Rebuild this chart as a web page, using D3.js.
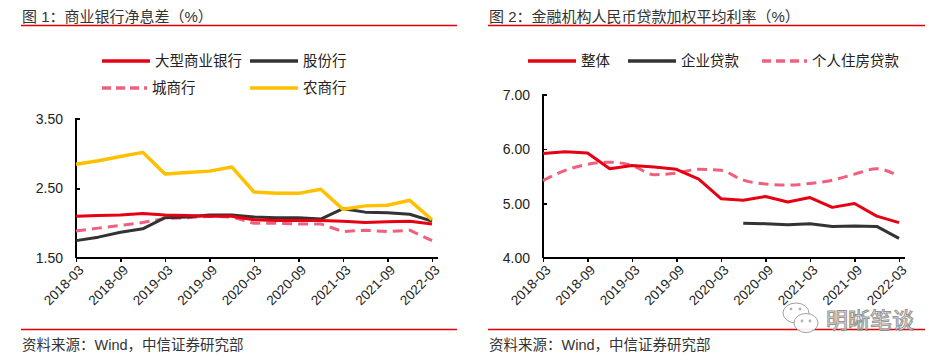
<!DOCTYPE html>
<html>
<head>
<meta charset="utf-8">
<script src="https://cdn.jsdelivr.net/npm/d3@7"></script>
<style>
  body { margin: 0; background: #fff; }
  text { font-family: "Liberation Sans", "Noto Sans CJK SC", sans-serif; }
</style>
</head>
<body>
<script>
// quarters shared by both charts
var quarters = ["2018-03","2018-06","2018-09","2018-12","2019-03","2019-06","2019-09","2019-12",
  "2020-03","2020-06","2020-09","2020-12","2021-03","2021-06","2021-09","2021-12","2022-03"];
var tickLabels = ["2018-03","2018-09","2019-03","2019-09","2020-03","2020-09","2021-03","2021-09","2022-03"];

// chart 1: net interest margin
var bigBanks  = [2.10,2.11,2.12,2.14,2.12,2.11,2.10,2.10,2.05,2.04,2.04,2.04,2.03,2.01,2.02,2.03,1.99];
var jointBanks = [1.75,1.80,1.87,1.92,2.08,2.09,2.12,2.12,2.09,2.08,2.08,2.06,2.21,2.16,2.15,2.13,2.03];
var cityBanks = [1.89,1.93,1.97,2.01,2.07,2.08,2.10,2.09,2.00,2.00,1.99,1.99,1.88,1.90,1.88,1.90,1.75];
var ruralBanks = [2.85,2.90,2.96,3.02,2.71,2.73,2.75,2.81,2.45,2.43,2.43,2.49,2.20,2.25,2.26,2.33,2.05];
var yTicks1 = [1.5, 2.5, 3.5];

// chart 2: weighted average loan rate
var overall = [5.92,5.95,5.93,5.64,5.70,5.67,5.63,5.45,5.09,5.06,5.13,5.03,5.11,4.93,5.00,4.77,4.65];
var corporate = [null,null,null,null,null,null,null,null,null,4.64,4.63,4.61,4.63,4.58,4.59,4.58,4.36];
var mortgage = [5.42,5.61,5.72,5.76,5.70,5.53,5.56,5.63,5.61,5.43,5.36,5.34,5.37,5.43,5.54,5.64,5.50];
var yTicks2 = [4, 5, 6, 7];

var RED = "#e60012", BLACK = "#333333", PINK = "#f0607e", YELLOW = "#ffc000";

var svg = d3.select("body").append("svg")
    .attr("width", 946)
    .attr("height", 362);

// draws one panel
function panel(opt) {
  var g = svg.append("g");

  // title and red rules
  g.append("text")
      .attr("x", opt.left + 1).attr("y", 22)
      .attr("font-size", 15).attr("fill", "#333")
      .text(opt.title);
  g.append("line")
      .attr("x1", opt.left).attr("x2", opt.right)
      .attr("y1", 25.5).attr("y2", 25.5)
      .attr("stroke", "#e00000").attr("stroke-width", 1.5);
  g.append("line")
      .attr("x1", opt.left).attr("x2", opt.right)
      .attr("y1", 329.5).attr("y2", 329.5)
      .attr("stroke", "#e00000").attr("stroke-width", 1.5);
  g.append("text")
      .attr("x", opt.left + 1).attr("y", 350)
      .attr("font-size", 14.5).attr("fill", "#333")
      .text("资料来源：Wind，中信证券研究部");

  var x = d3.scalePoint().domain(quarters).range(opt.xRange);
  var y = d3.scaleLinear().domain(opt.yDomain).range([258, opt.yTop]);

  // y axis
  var yAxis = g.append("g")
      .attr("transform", "translate(" + opt.xRange[0] + ",0)")
      .call(d3.axisRight(y).tickValues(opt.yTicks).tickSize(4).tickFormat(d3.format(".2f")));
  yAxis.select(".domain").attr("stroke", "#000").attr("stroke-width", 1.3)
      .attr("d", "M4," + (opt.yTop) + "H0V258");
  yAxis.selectAll(".tick line").attr("stroke", "#000").attr("stroke-width", 1.3);
  yAxis.selectAll(".tick text")
      .attr("x", -13).attr("text-anchor", "end")
      .attr("font-size", 14).attr("fill", "#222")
      .attr("font-family", null);

  // x axis
  var xAxis = g.append("g")
      .attr("transform", "translate(0,258)")
      .call(d3.axisBottom(x).tickValues(tickLabels).tickSize(4).tickSizeOuter(0));
  xAxis.select(".domain").attr("stroke", "#000").attr("stroke-width", 1.3)
      .attr("d", "M" + opt.xRange[0] + ",0H" + opt.axisEnd);
  xAxis.selectAll(".tick line").attr("stroke", "#000").attr("stroke-width", 1.3);
  xAxis.selectAll(".tick text")
      .attr("y", 0).attr("dy", 0)
      .attr("transform", "translate(8,13) rotate(-45)")
      .attr("text-anchor", "end")
      .attr("font-size", 13.5).attr("fill", "#222")
      .attr("font-family", null);
  g.selectAll(".domain, .tick line").attr("shape-rendering", "crispEdges");

  // lines
  opt.series.forEach(function(s) {
    var line = d3.line()
        .defined(function(d) { return d != null; })
        .x(function(d, i) { return x(quarters[i]); })
        .y(function(d) { return y(d); })
        .curve(s.smooth ? d3.curveMonotoneX : d3.curveLinear);
    g.append("path")
        .datum(s.values)
        .attr("d", line)
        .attr("fill", "none")
        .attr("stroke", s.color)
        .attr("stroke-width", s.width)
        .attr("stroke-dasharray", s.dash || null)
        .attr("stroke-linejoin", "round");
  });

  // legend
  opt.series.forEach(function(s) {
    var lg = g.append("g").attr("transform", "translate(" + s.lx + "," + s.ly + ")");
    lg.append("line")
        .attr("x1", 0).attr("x2", s.lw || 48)
        .attr("stroke", s.color).attr("stroke-width", 3.5)
        .attr("stroke-dasharray", s.dash ? "9,5" : null);
    lg.append("text")
        .attr("x", (s.lw || 48) + 5).attr("y", 5)
        .attr("font-size", 14.5).attr("fill", "#222")
        .text(s.name);
  });
}

panel({
  title: "图 1：商业银行净息差（%）",
  left: 21, right: 457,
  xRange: [76, 432], axisEnd: 438,
  yDomain: [1.5, 3.5], yTop: 119, yTicks: yTicks1,
  series: [
    {name: "城商行", values: cityBanks, color: PINK, width: 3, dash: "10,6", lx: 102, ly: 88, lw: 45},
    {name: "股份行", values: jointBanks, color: BLACK, width: 3, lx: 250, ly: 61},
    {name: "大型商业银行", values: bigBanks, color: RED, width: 3, lx: 102, ly: 61},
    {name: "农商行", values: ruralBanks, color: YELLOW, width: 3.5, lx: 250, ly: 88}
  ]
});

panel({
  title: "图 2：金融机构人民币贷款加权平均利率（%）",
  left: 488, right: 925,
  xRange: [543, 899], axisEnd: 905,
  yDomain: [4, 7], yTop: 94.7, yTicks: yTicks2,
  series: [
    {name: "个人住房贷款", values: mortgage, color: PINK, width: 3, dash: "10,6", smooth: true, lx: 762, ly: 61, lw: 45},
    {name: "企业贷款", values: corporate, color: BLACK, width: 3, lx: 628, ly: 61},
    {name: "整体", values: overall, color: RED, width: 3, lx: 528, ly: 61}
  ]
});

// watermark
var wm = svg.append("g").attr("opacity", 0.9);
wm.append("ellipse").attr("cx", 796).attr("cy", 313).attr("rx", 13).attr("ry", 10)
    .attr("fill", "#fff").attr("stroke", "#999").attr("stroke-width", 1);
wm.append("ellipse").attr("cx", 806).attr("cy", 323).attr("rx", 12).attr("ry", 9.5)
    .attr("fill", "#fff").attr("stroke", "#999").attr("stroke-width", 1);
[[791, 309], [800, 309], [802, 321], [810, 321]].forEach(function(p) {
  wm.append("circle").attr("cx", p[0]).attr("cy", p[1]).attr("r", 1.4).attr("fill", "#aaa");
});
wm.append("text")
    .attr("x", 826).attr("y", 328)
    .attr("font-size", 22)
    .attr("font-family", "Noto Sans CJK SC")
    .attr("fill", "#fff").attr("stroke", "#888").attr("stroke-width", 1)
    .text("明晰笔谈");
</script>
</body>
</html>
